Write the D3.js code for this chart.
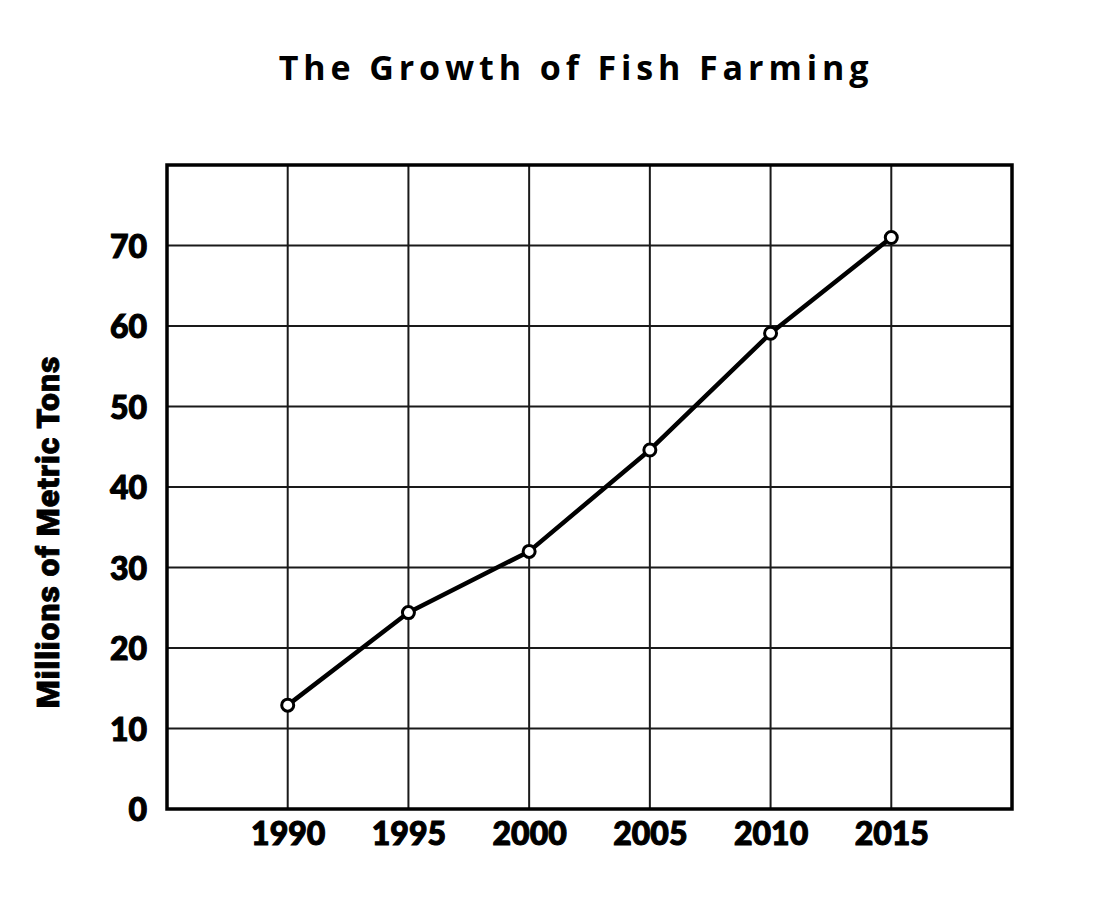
<!DOCTYPE html>
<html><head><meta charset="utf-8">
<script src="https://cdn.jsdelivr.net/npm/d3@7"></script>
<style>body{margin:0;background:#fff}</style>
</head><body>
<svg id="chart" width="1093" height="914"></svg>
<script>
const title = "The Growth of Fish Farming";
const yAxisLabel = "Millions of Metric Tons";
const years = [1990, 1995, 2000, 2005, 2010, 2015];
const values = [12.9, 24.4, 32.0, 44.6, 59.1, 71.0];
const yTicks = [0, 10, 20, 30, 40, 50, 60, 70];

const svg = d3.select("#chart");
const m = {left: 167, top: 165, right: 1012, bottom: 809};
const x = d3.scaleLinear().domain([1985, 2020]).range([m.left, m.right]);
const y = d3.scaleLinear().domain([0, 80]).range([m.bottom, m.top]);

// grid
svg.append("g").selectAll("line.v").data(years).join("line")
  .attr("x1", d => x(d)).attr("x2", d => x(d))
  .attr("y1", m.top).attr("y2", m.bottom)
  .attr("stroke", "#1a1a1a").attr("stroke-width", 2);
svg.append("g").selectAll("line.h").data(yTicks.filter(d => d > 0)).join("line")
  .attr("x1", m.left).attr("x2", m.right)
  .attr("y1", d => y(d)).attr("y2", d => y(d))
  .attr("stroke", "#1a1a1a").attr("stroke-width", 2);

// frame
svg.append("rect").attr("x", m.left).attr("y", m.top)
  .attr("width", m.right - m.left).attr("height", m.bottom - m.top)
  .attr("fill", "none").attr("stroke", "#000").attr("stroke-width", 3.5);

// axes
const tickFont = "Lato, 'DejaVu Sans', sans-serif";
const yAxis = svg.append("g").attr("transform", `translate(${m.left},0)`)
  .call(d3.axisLeft(y).tickValues(yTicks).tickSize(0).tickPadding(20));
const xAxis = svg.append("g").attr("transform", `translate(0,${m.bottom})`)
  .call(d3.axisBottom(x).tickValues(years).tickFormat(d3.format("d")).tickSize(0).tickPadding(13));
[yAxis, xAxis].forEach(a => {
  a.select(".domain").remove();
  a.selectAll("text").attr("font-family", tickFont).attr("font-weight", 900)
    .attr("font-size", 32).attr("fill", "#000")
    .attr("stroke", "#000").attr("stroke-width", 1.1);
});
yAxis.selectAll("text").attr("dy", "0.36em");

// line
const pts = years.map((d, i) => [d, values[i]]);
svg.append("path").datum(pts)
  .attr("d", d3.line().x(d => x(d[0])).y(d => y(d[1])))
  .attr("fill", "none").attr("stroke", "#000").attr("stroke-width", 4.5)
  .attr("stroke-linejoin", "round");
svg.append("g").selectAll("circle").data(pts).join("circle")
  .attr("cx", d => x(d[0])).attr("cy", d => y(d[1])).attr("r", 6)
  .attr("fill", "#fff").attr("stroke", "#000").attr("stroke-width", 3);

// title
svg.append("text").attr("x", 576).attr("y", 80).attr("text-anchor", "middle")
  .attr("font-family", "'Open Sans', sans-serif").attr("font-weight", 700)
  .attr("font-size", 34).attr("letter-spacing", 4.9).attr("fill", "#000")
  .text(title);

// y label
svg.append("text").attr("transform", "translate(59,532) rotate(-90)")
  .attr("text-anchor", "middle")
  .attr("font-family", "Roboto, sans-serif").attr("font-weight", 900)
  .attr("font-size", 32).attr("letter-spacing", 0.9).attr("fill", "#000")
  .attr("stroke", "#000").attr("stroke-width", 0.8)
  .text(yAxisLabel);
</script>
</body></html>
